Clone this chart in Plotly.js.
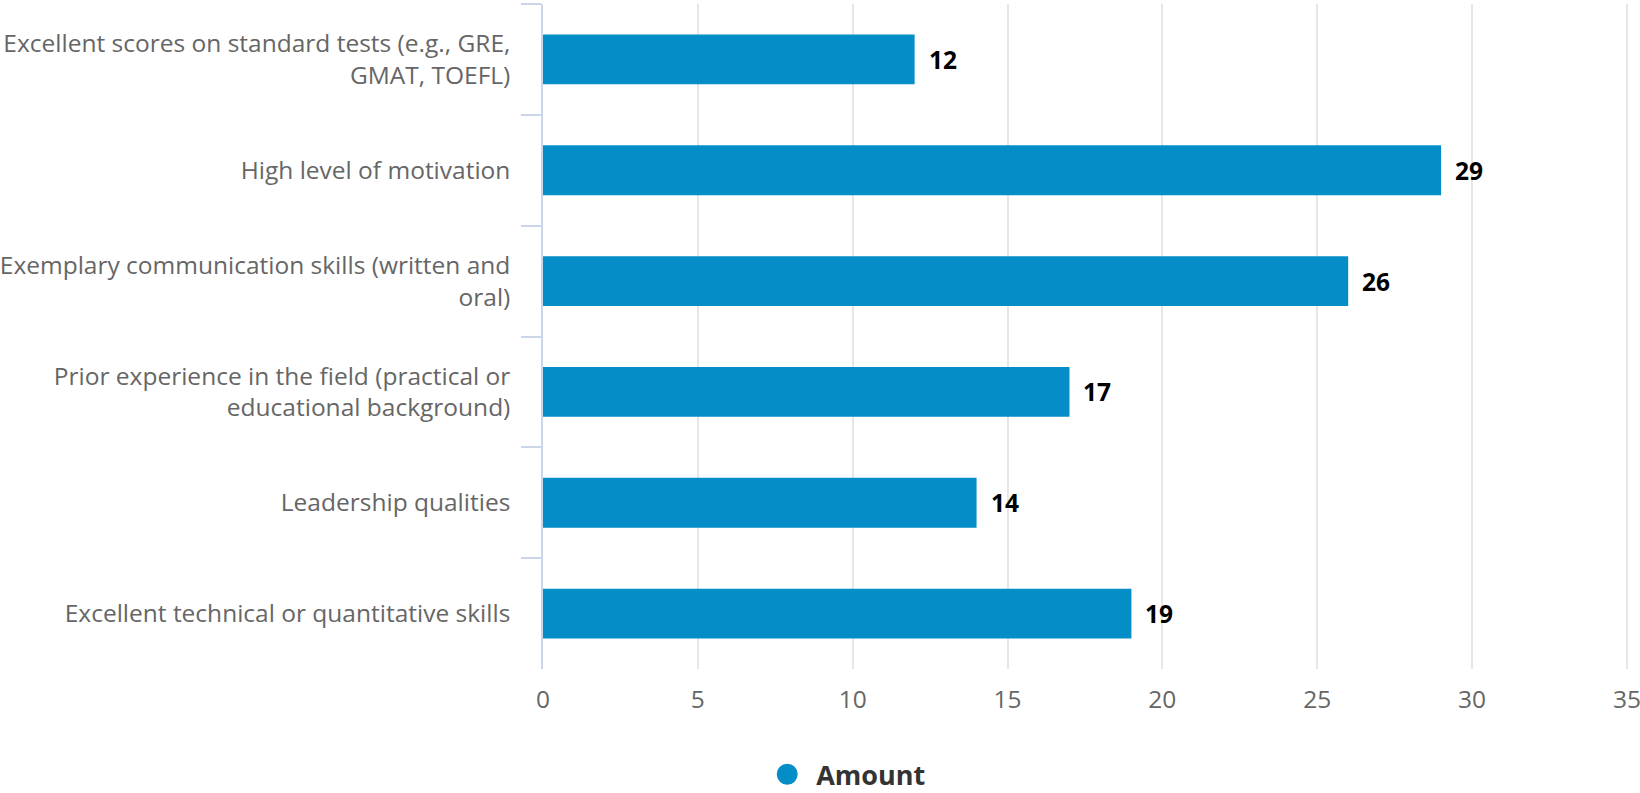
<!DOCTYPE html>
<html>
<head>
<meta charset="utf-8">
<script src="https://cdn.plot.ly/plotly-3.0.1.min.js"></script>
<style>
html,body{margin:0;padding:0;background:#fff;}
#chart{width:1640px;height:793px;}
</style>
</head>
<body>
<div id="chart"></div>
<script>
const categories = [
  "Excellent scores on standard tests (e.g., GRE,<br>GMAT, TOEFL)",
  "High level of motivation",
  "Exemplary communication skills (written and<br>oral)",
  "Prior experience in the field (practical or<br>educational background)",
  "Leadership qualities",
  "Excellent technical or quantitative skills"
];
const amounts = [12, 29, 26, 17, 14, 19];
const seriesName = "Amount";
const xTicks = [0, 5, 10, 15, 20, 25, 30, 35];

const barColor = "#058DC7";
const font = '"Open Sans", "DejaVu Sans", sans-serif';

const traces = [
  {
    type: "bar",
    orientation: "h",
    x: amounts,
    y: categories,
    width: 0.45,
    marker: {color: barColor},
    showlegend: false,
    hoverinfo: "x+y"
  },
  {
    type: "scatter",
    mode: "markers",
    x: [null],
    y: [null],
    name: seriesName,
    marker: {color: barColor, size: 16, symbol: "circle", line: {color: barColor, width: 5}},
    showlegend: true
  }
];

const annotations = amounts.map((v, i) => ({
  x: v,
  y: categories[i],
  xref: "x",
  yref: "y",
  text: "<b>" + v + "</b>",
  showarrow: false,
  xanchor: "left",
  yanchor: "middle",
  xshift: 12,
  font: {family: font, size: 24.5, color: "#000"}
}));

const layout = {
  width: 1640,
  height: 793,
  margin: {l: 543, r: 10, t: 4, b: 124, pad: 0, autoexpand: false},
  paper_bgcolor: "#fff",
  plot_bgcolor: "#fff",
  font: {family: font, size: 24, color: "#666"},
  xaxis: {
    range: [0, 35.1],
    tickvals: xTicks,
    ticktext: xTicks.map(String),
    showgrid: true,
    gridcolor: "#e6e6e6",
    gridwidth: 1.5,
    zeroline: false,
    showline: false,
    ticks: "",
    ticklabelstandoff: 13,
    ticklabeloverflow: "allow",
    tickfont: {family: font, size: 24.5, color: "#666"},
    fixedrange: true
  },
  yaxis: {
    type: "category",
    autorange: "reversed",
    showgrid: false,
    zeroline: false,
    showline: true,
    linecolor: "#ccd6eb",
    linewidth: 1.5,
    ticks: "outside",
    tickson: "boundaries",
    ticklen: 20,
    tickcolor: "#ccd6eb",
    tickwidth: 1.5,
    ticklabelstandoff: 26,
    tickfont: {family: font, size: 24.5, color: "#666"},
    fixedrange: true
  },
  showlegend: true,
  legend: {
    orientation: "h",
    x: 0.198,
    xanchor: "left",
    y: -0.159,
    yanchor: "middle",
    itemwidth: 48,
    font: {family: font, size: 27, color: "#333", weight: "bold"},
    itemclick: false
  },
  annotations: annotations,
  bargap: 0.55
};

Plotly.newPlot("chart", traces, layout, {displayModeBar: false, responsive: false});
</script>
</body>
</html>
